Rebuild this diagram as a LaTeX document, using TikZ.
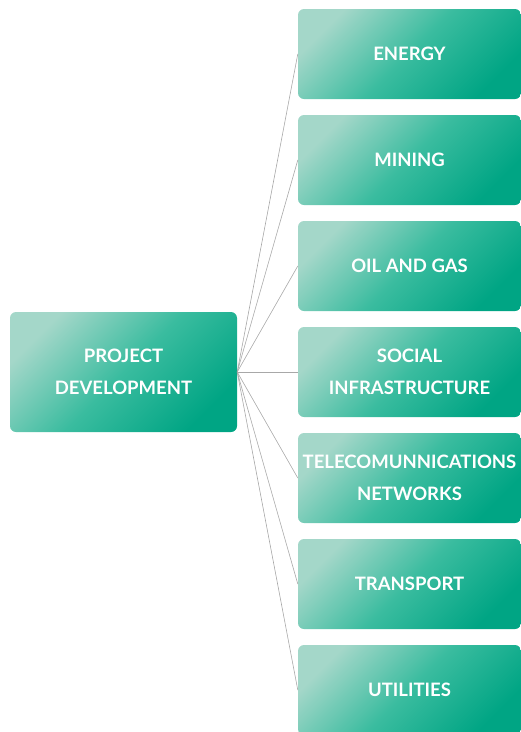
\documentclass[tikz,border=0pt]{standalone}
\usepackage{fontspec}
\setmainfont{Lato}
\definecolor{tlight}{HTML}{A4D7C9}
\definecolor{tmid}{HTML}{3ABC9F}
\definecolor{tdark}{HTML}{00A584}
\definecolor{linegray}{HTML}{A8A8A8}
\begin{document}
\begin{tikzpicture}[x=1pt,y=-1pt,
  box/.style={rounded corners=6pt, top color=tlight, bottom color=tdark, middle color=tmid, shading angle=45,
    inner sep=0pt, text=white, align=center, font=\fontsize{18.5}{32}\selectfont\bfseries},
  conn/.style={draw=linegray, line width=0.6pt}]
\useasboundingbox (0,0) rectangle (521,732);
\clip (0,0) rectangle (521,732);
\node[box, minimum width=227pt, minimum height=120pt] (pd) at (123.5,372) {PROJECT\\DEVELOPMENT};
\foreach \name/\txt [count=\i] in {en/ENERGY, mi/MINING, og/OIL AND GAS, so/SOCIAL\\INFRASTRUCTURE, te/TELECOMUNNICATIONS\\NETWORKS, tr/TRANSPORT, ut/UTILITIES}{
  \node[box, minimum width=223pt, minimum height=90pt] (\name) at (409.5,{54+106*(\i-1)}) {\txt};
  \draw[conn] (pd.east) -- (\name.west);
}
\end{tikzpicture}
\end{document}
